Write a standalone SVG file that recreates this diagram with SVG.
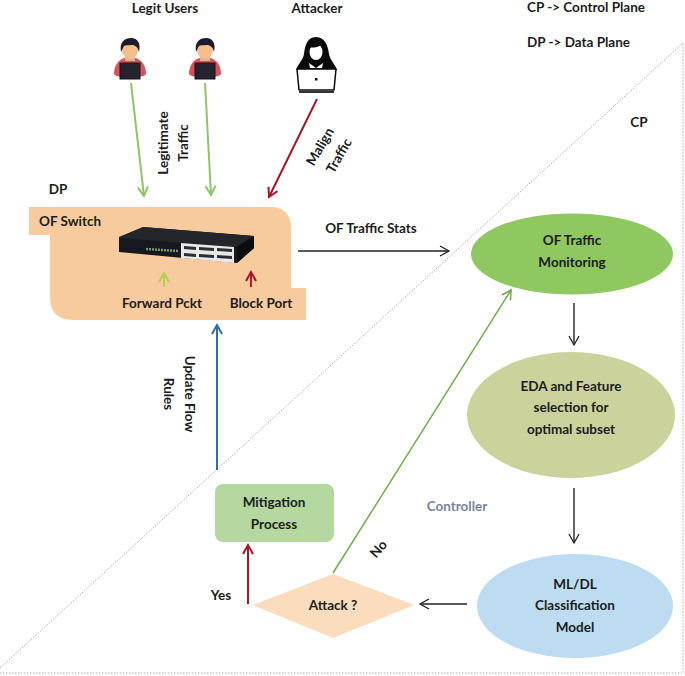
<svg xmlns="http://www.w3.org/2000/svg" width="685" height="676" viewBox="0 0 685 676">
<style>
text{font-family:Lato,"Liberation Sans",sans-serif;font-weight:700;font-size:13.5px;fill:#1c1c1c;text-anchor:middle}
.plane{fill:none;stroke:#a8adb4;stroke-width:1;stroke-dasharray:1.5 1.5}
.c{fill:none;stroke-width:1.5}
.t{fill:none;stroke-width:2}
</style>
<defs>
<marker id="k" markerWidth="14" markerHeight="14" refX="11" refY="6" orient="auto" markerUnits="userSpaceOnUse"><path d="M2 1L11 6L2 11" fill="none" stroke="#222" stroke-width="1.3"/></marker>
<marker id="g" markerWidth="14" markerHeight="14" refX="11" refY="6" orient="auto" markerUnits="userSpaceOnUse"><path d="M2 1L11 6L2 11" fill="none" stroke="#8cc568" stroke-width="2"/></marker>
<marker id="g2" markerWidth="14" markerHeight="14" refX="11" refY="6" orient="auto" markerUnits="userSpaceOnUse"><path d="M2 1L11 6L2 11" fill="none" stroke="#70ad47" stroke-width="1.6"/></marker>
<marker id="r" markerWidth="14" markerHeight="14" refX="11" refY="6" orient="auto" markerUnits="userSpaceOnUse"><path d="M2 1L11 6L2 11" fill="none" stroke="#a5162b" stroke-width="2"/></marker>
<marker id="y" markerWidth="14" markerHeight="14" refX="11" refY="6" orient="auto" markerUnits="userSpaceOnUse"><path d="M2 1L11 6L2 11" fill="none" stroke="#b5cf55" stroke-width="2"/></marker>
<marker id="b" markerWidth="14" markerHeight="14" refX="11" refY="6" orient="auto" markerUnits="userSpaceOnUse"><path d="M2 1L11 6L2 11" fill="none" stroke="#2e6db0" stroke-width="2"/></marker>
<g id="person">
<path d="M-16 27C-16 18 -11 12 -5 11L5 11C11 12 16 18 16 27C13 32 -13 32 -16 27Z" fill="#d9525a"/>
<path d="M-5 9H5V14H-5Z" fill="#eeb083"/>
<ellipse cx="0" cy="3" rx="8" ry="9" fill="#f6bd8d"/>
<path d="M-9 5C-11 -5 -5 -9 1 -9C8 -9 11 -3 9 5C8 0 5 -2 2 -2C-2 -1 -6 -3 -7 1Z" fill="#1e1a2a"/>
<rect x="-10" y="16" width="20" height="16" fill="#26222e" stroke="#17141c"/>
</g>
</defs>
<rect width="685" height="676" fill="#fff"/>
<g id="planes">
<path class="plane" d="M0 668L683 43V672"/>
<path class="plane" d="M0 673H682"/>
</g>
<g id="labels">
<text x="165" y="13">Legit Users</text>
<text x="317" y="13">Attacker</text>
<text x="527" y="12" style="text-anchor:start">CP -&gt; Control Plane</text>
<text x="527" y="47" style="text-anchor:start">DP -&gt; Data Plane</text>
<text x="639" y="127">CP</text>
<text x="58" y="194">DP</text>
<text x="371" y="233">OF Traffic Stats</text>
<text x="457" y="511" style="fill:#78849c">Controller</text>
<text x="221" y="600">Yes</text>
<text transform="translate(382 552) rotate(-48)">No</text>
<text transform="translate(168 143) rotate(-90)">Legitimate</text>
<text transform="translate(188 143) rotate(-90)">Traffic</text>
<text transform="translate(324 149) rotate(-60)">Malign</text>
<text transform="translate(343 158) rotate(-60)">Traffic</text>
<text transform="translate(185 394) rotate(90)">Update Flow</text>
<text transform="translate(164 394) rotate(90)">Rules</text>
</g>
<g id="switch">
<path d="M29 207H270Q291 207 291 228V288H306V320H75Q50 320 50 298V235H29Z" fill="#f7cb9e"/>
<text x="70" y="226">OF Switch</text>
<path d="M119 237L143 227L254 236V248L237 263L119 252Z" fill="#15181d"/>
<path d="M143 227L254 236L237 247L119 238Z" fill="#23262b"/>
<path d="M237 247L254 236V248L237 263Z" fill="#0b0c10"/>
<path d="M181 243L234 247V263L181 258Z" fill="#e8e8e8"/>
<path d="M184 246L196 247V250L184 249ZM199 247L214 248V251L199 250ZM217 248L232 249V252L217 251ZM184 253L196 254V257L184 256ZM199 254L214 255V258L199 257ZM217 255L232 256V259L217 258Z" fill="#2a2d33"/>
<path d="M146 249L178 251" stroke="#7d9a62" stroke-width="2.500" stroke-dasharray="2 1"/>
<text x="162" y="308">Forward Pckt</text>
<text x="261" y="308">Block Port</text>
</g>
<g id="legit-user-1"><use href="#person" x="130" y="47"/></g>
<g id="legit-user-2"><use href="#person" x="205" y="47"/></g>
<g id="attacker">
<path d="M316 37C307 37 305 46 304 54C303 60 298 64 296 70H337C335 64 330 60 329 54C328 46 325 37 316 37Z" fill="#0a0a0a"/>
<ellipse cx="316" cy="52" rx="6.500" ry="8" fill="#fff"/>
<path d="M309 47C312 48 320 48 322 43C324 46 324 50 323 52V44H309Z" fill="#0a0a0a"/>
<path d="M309 63L316 68L323 63L322 68H310Z" fill="#fff"/>
<path d="M297 69H336L334 90H299Z" fill="#fff" stroke="#0a0a0a" stroke-width="1.500" stroke-linejoin="round"/>
<path d="M299 92H334" stroke="#333" stroke-width="2"/>
<rect x="315" y="78" width="2.500" height="2.500" fill="#0a0a0a"/>
</g>
<g id="traffic-monitoring">
<ellipse cx="572" cy="254" rx="101" ry="40.500" fill="#8fc760"/>
<text x="572" y="245">OF Traffic</text>
<text x="572" y="267">Monitoring</text>
</g>
<g id="eda">
<ellipse cx="571" cy="415" rx="104" ry="63" fill="#ccd29b"/>
<text x="571" y="391">EDA and Feature</text>
<text x="571" y="412">selection for</text>
<text x="571" y="434">optimal subset</text>
</g>
<g id="classification">
<ellipse cx="575" cy="606" rx="98" ry="52" fill="#bddcf2"/>
<text x="575" y="589">ML/DL</text>
<text x="575" y="610">Classification</text>
<text x="575" y="632">Model</text>
</g>
<g id="attack">
<path d="M253 605L333 574L414 605L333 638Z" fill="#fbdcbc"/>
<text x="333" y="610">Attack ?</text>
</g>
<g id="mitigation">
<rect x="215" y="484" width="119" height="58" rx="8" fill="#b4d8a0"/>
<text x="274" y="507">Mitigation</text>
<text x="274" y="529">Process</text>
</g>
<g id="connectors">
<path class="t" d="M131 83L144 196" stroke="#8cc568" marker-end="url(#g)"/>
<path class="t" d="M205 83L211 195" stroke="#8cc568" marker-end="url(#g)"/>
<path class="t" d="M317 99L269 197" stroke="#a5162b" marker-end="url(#r)"/>
<path class="t" d="M164 287V273" stroke="#b5cf55" marker-end="url(#y)"/>
<path class="t" d="M251 287V272" stroke="#c01a25" marker-end="url(#r)"/>
<path class="t" d="M217 470V325" stroke="#2e6db0" marker-end="url(#b)"/>
<path class="c" d="M298 251H449" stroke="#222" marker-end="url(#k)"/>
<path class="c" d="M574 303V345" stroke="#333" marker-end="url(#k)"/>
<path class="c" d="M574 488V543" stroke="#333" marker-end="url(#k)"/>
<path class="c" d="M467 604H420" stroke="#222" marker-end="url(#k)"/>
<path class="t" d="M248 604V545" stroke="#a5162b" marker-end="url(#r)"/>
<path class="c" d="M333 573L511 290" stroke="#70ad47" marker-end="url(#g2)"/>
</g>
</svg>
